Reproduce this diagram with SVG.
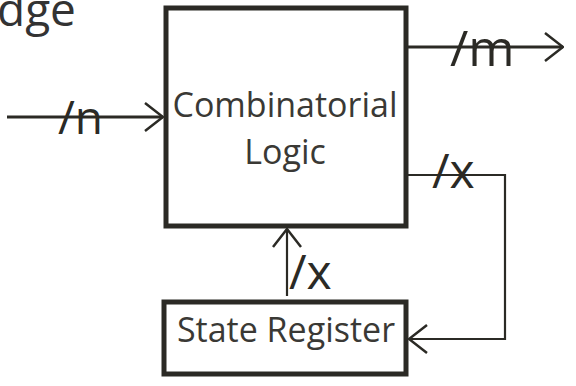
<svg xmlns="http://www.w3.org/2000/svg" width="576" height="386" viewBox="0 0 576 386">
<defs>
<style>
.box{fill:none;stroke:#2b2a25;stroke-width:5}
.ln{fill:none;stroke:#2b2a25;stroke-width:3}
.thin{fill:none;stroke:#2b2a25;stroke-width:2.2}
.t{font-family:"Open Sans","Liberation Sans",sans-serif;fill:#3a3935;text-anchor:middle;font-size:34px}
.lbl{font-family:"Open Sans","Liberation Sans",sans-serif;fill:#2b2a25;font-size:48px}
</style>
<marker id="ah" viewBox="0 0 20 30" refX="19" refY="15" markerWidth="20" markerHeight="30" markerUnits="userSpaceOnUse" orient="auto">
<path d="M1,1 L19,15 L1,29" fill="none" stroke="#2b2a25" stroke-width="2.5"/>
</marker>
</defs>
<rect width="576" height="386" fill="#ffffff"/>
<text x="-3" y="26" class="lbl" style="fill:#333;font-size:46px">dge</text>
<g id="comb">
<rect class="box" x="166" y="8" width="240" height="218"/>
<text class="t" x="285" y="117">Combinatorial</text>
<text class="t" x="285" y="164">Logic</text>
</g>
<g id="state">
<rect class="box" x="164" y="302" width="242" height="72"/>
<text class="t" x="286" y="342">State Register</text>
</g>
<g id="connectors">
<line class="ln" x1="7" y1="117" x2="163" y2="117" marker-end="url(#ah)"/>
<line class="ln" x1="408" y1="47" x2="563" y2="47" marker-end="url(#ah)"/>
<polyline class="thin" points="408,175 505,175 505,339 409,339" marker-end="url(#ah)"/>
<line class="thin" x1="287" y1="296" x2="287" y2="229" marker-end="url(#ah)"/>
<text class="lbl" x="58" y="134" style="font-size:46px">/n</text>
<text class="lbl" x="450" y="66" style="font-size:50px">/m</text>
<text class="lbl" x="432" y="188">/x</text>
<text class="lbl" x="289" y="289">/x</text>
</g>
</svg>
